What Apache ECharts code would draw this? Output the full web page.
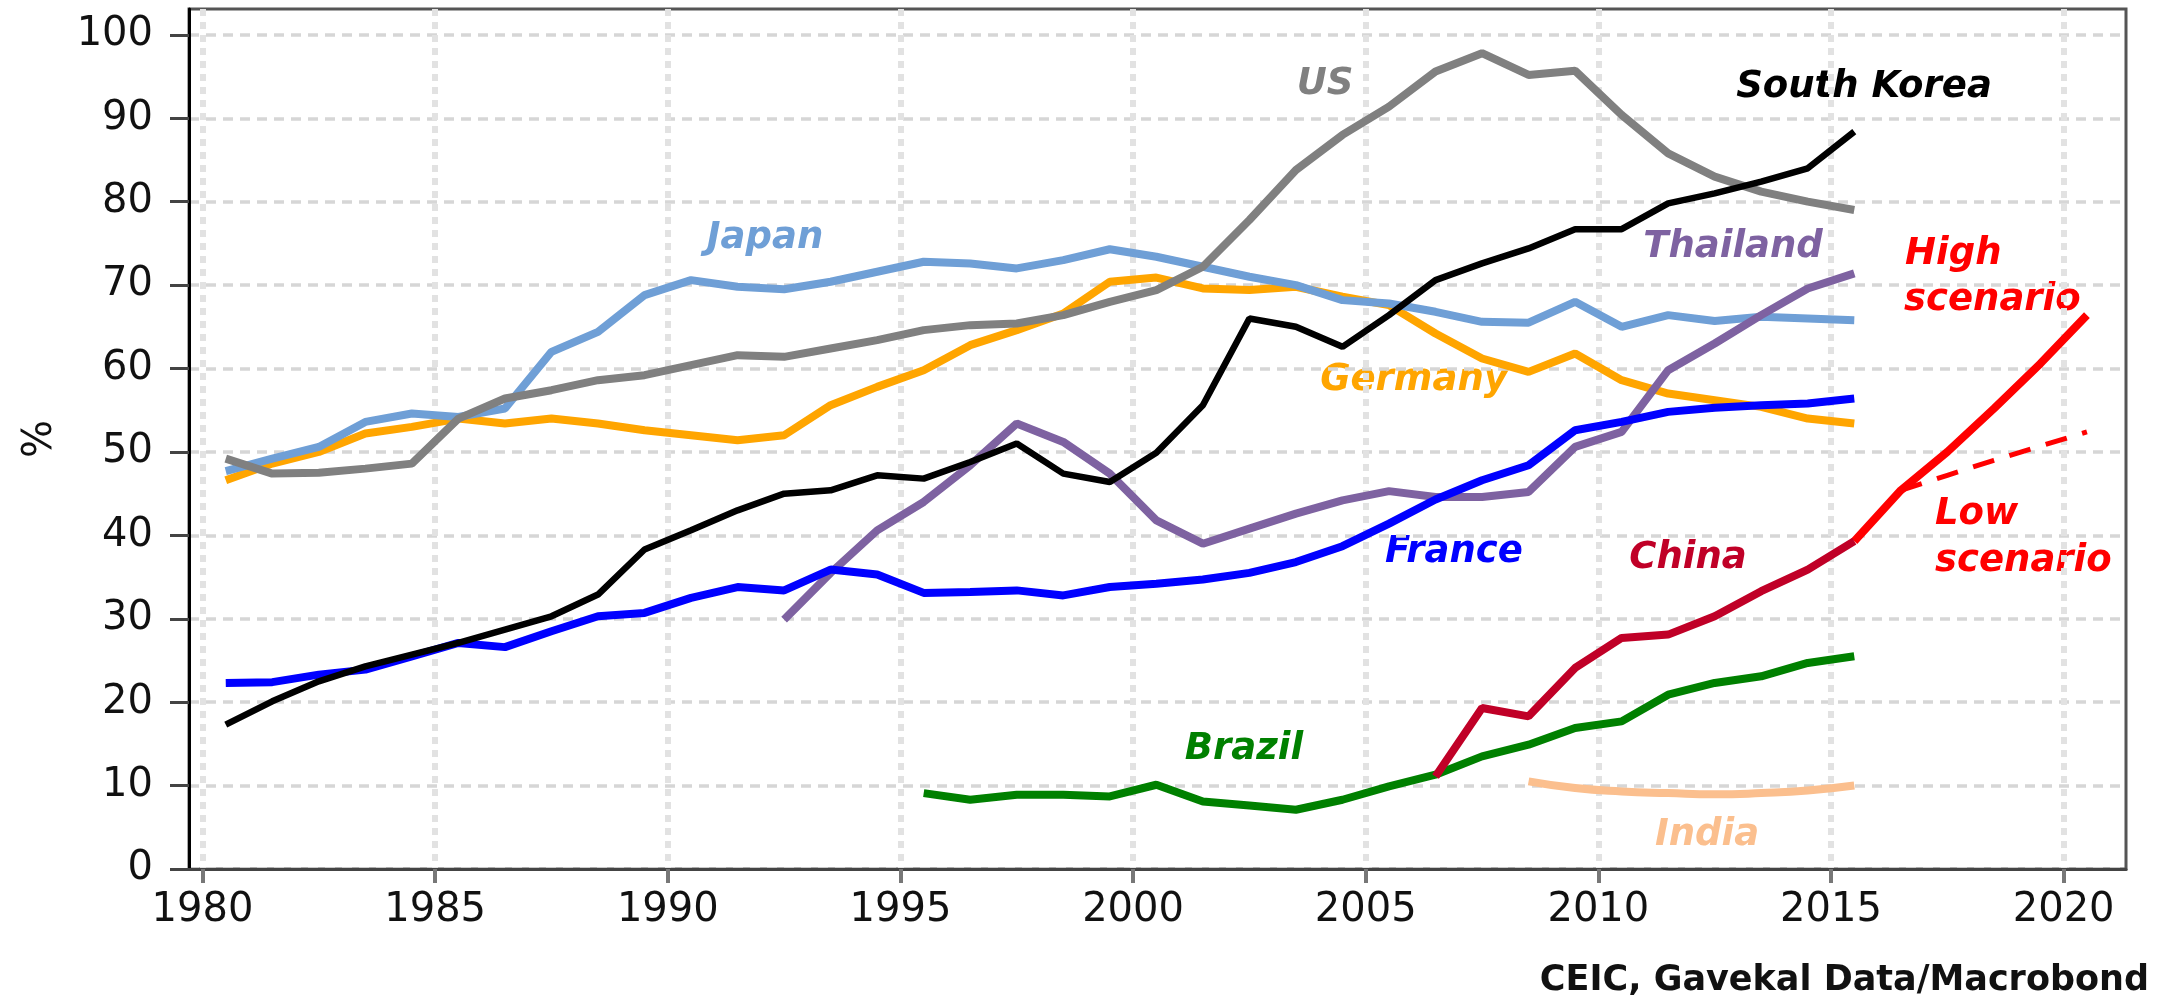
<!DOCTYPE html>
<html>
<head>
<meta charset="utf-8">
<title>Debt</title>
<script src="https://cdn.jsdelivr.net/npm/echarts@6/dist/echarts.min.js"></script>
<style>
  html, body { margin: 0; padding: 0; background: #fff; }
  #box1 { width: 2163px; height: 1006px; }
</style>
</head>
<body>
<div id="box1"></div>
<script>
// yearly values, first year given separately; points sit at mid-year
var japanStart = 1980;
var japan = [47.7, 49.2, 50.6, 53.6, 54.6, 54.2, 55.2, 62.0, 64.4, 68.8, 70.6, 69.8, 69.5, 70.4, 71.6, 72.8, 72.6, 72.0,
    73.0, 74.3, 73.4, 72.2, 71.0, 70.0, 68.2, 67.8, 66.8, 65.6, 65.5, 68.0, 65.0, 66.4, 65.7, 66.2, 66.0, 65.8];
var usStart = 1980;
var us = [49.2, 47.4, 47.5, 48.0, 48.6, 54.0, 56.4, 57.4, 58.6, 59.2, 60.4, 61.6, 61.4, 62.4, 63.4, 64.6, 65.2, 65.4,
    66.4, 68.0, 69.4, 72.2, 77.8, 83.8, 88.0, 91.4, 95.6, 97.8, 95.2, 95.7, 90.4, 85.8, 83.0, 81.2, 80.0, 79.0];
var germanyStart = 1980;
var germany = [46.6, 48.6, 50.0, 52.2, 53.0, 54.0, 53.4, 54.0, 53.4, 52.6, 52.0, 51.4, 52.0, 55.6, 57.8, 59.8, 62.8, 64.6,
    66.6, 70.4, 70.9, 69.6, 69.4, 69.8, 68.6, 67.6, 64.2, 61.2, 59.6, 61.8, 58.6, 57.0, 56.2, 55.4, 54.0, 53.4];
var koreaStart = 1980;
var korea = [17.3, 20.1, 22.5, 24.3, 25.7, 27.1, 28.7, 30.3, 32.9, 38.3, 40.6, 43.0, 45.0, 45.4, 47.2, 46.8, 48.8, 51.0,
    47.4, 46.4, 49.9, 55.6, 66.0, 65.0, 62.6, 66.4, 70.6, 72.6, 74.4, 76.7, 76.7, 79.8, 81.0, 82.4, 84.0, 88.4];
var franceStart = 1980;
var france = [22.3, 22.4, 23.3, 23.9, 25.5, 27.1, 26.6, 28.5, 30.3, 30.7, 32.5, 33.8, 33.4, 35.9, 35.3, 33.1, 33.2, 33.4,
    32.8, 33.8, 34.2, 34.7, 35.5, 36.8, 38.7, 41.4, 44.3, 46.6, 48.4, 52.6, 53.6, 54.8, 55.3, 55.6, 55.8, 56.4];
var thailandStart = 1992;
var thailand = [29.9, 35.5, 40.6, 44.0, 48.4, 53.4, 51.2, 47.4, 41.8, 39.0, 40.8, 42.6, 44.2, 45.3, 44.6, 44.6, 45.2, 50.6,
    52.4, 59.8, 63.0, 66.4, 69.6, 71.4];
var brazilStart = 1995;
var brazil = [9.1, 8.3, 8.9, 8.9, 8.7, 10.1, 8.1, 7.6, 7.1, 8.3, 9.9, 11.3, 13.5, 14.9, 16.9, 17.7, 20.9, 22.3, 23.1, 24.7, 25.5];
var chinaStart = 2006;
var china = [11.1, 19.3, 18.3, 24.1, 27.7, 28.1, 30.3, 33.3, 35.9, 39.3];
var highStart = 2015;
var high = [39.3, 45.4, 50.0, 55.2, 60.6, 66.4];
var lowStart = 2016;
var low = [45.4, 47.2, 49.0, 50.7, 52.4];
var indiaStart = 2008;
var india = [10.5, 9.7, 9.3, 9.1, 8.95, 9.1, 9.4, 10.0];

var xTicks = [1980, 1985, 1990, 1995, 2000, 2005, 2010, 2015, 2020];
var yTicks = [0, 10, 20, 30, 40, 50, 60, 70, 80, 90, 100];

function pts(start, vals) {
    var out = [];
    for (var i = 0; i < vals.length; i++) out.push([start + i + 0.5, vals[i]]);
    return out;
}

function line(name, start, vals, color, width, extra) {
    var s = {
        name: name,
        type: 'line',
        data: pts(start, vals),
        symbol: 'none',
        lineStyle: {color: color, width: width},
        itemStyle: {color: color}
    };
    for (var k in extra) s[k] = extra[k];
    return s;
}

function tag(text, x, y, color, align) {
    return {
        type: 'text',
        x: x,
        y: y,
        style: {
            text: text,
            fill: color,
            font: 'italic bold 37px "DejaVu Sans"',
            align: align || 'center',
            verticalAlign: 'middle'
        }
    };
}

var myChart1 = echarts.init(document.getElementById('box1'));

var option1 = {
    animation: false,
    grid: {
        left: 189,
        right: 37,
        top: 9,
        bottom: 137,
        show: true,
        borderColor: '#555',
        borderWidth: 3
    },
    xAxis: {
        type: 'value',
        min: 1979.71,
        max: 2021.34,
        splitNumber: 8,
        axisLine: {lineStyle: {color: '#444', width: 3}},
        axisTick: {show: true, length: 14, customValues: xTicks, lineStyle: {color: '#777', width: 4}},
        axisLabel: {
            customValues: xTicks,
            formatter: function (v) { return String(v); },
            margin: 22,
            color: '#111',
            fontSize: 40,
            fontFamily: 'DejaVu Sans'
        },
        splitLine: {show: true, lineStyle: {color: '#e2e2e2', width: 6, type: [7, 6]}}
    },
    yAxis: {
        type: 'value',
        min: 0,
        max: 103.1,
        interval: 10,
        name: '%',
        nameLocation: 'middle',
        nameRotate: 90,
        nameGap: 128,
        nameTextStyle: {color: '#111', fontSize: 40, fontFamily: 'DejaVu Sans'},
        axisLine: {lineStyle: {color: '#000', width: 3}},
        axisTick: {show: true, length: 19, customValues: yTicks, lineStyle: {color: '#444', width: 3}},
        axisLabel: {
            customValues: yTicks,
            margin: 36,
            color: '#111',
            fontSize: 40,
            fontFamily: 'DejaVu Sans'
        },
        splitLine: {show: true, lineStyle: {color: '#d6d6d6', width: 3.5, type: [10, 7]}}
    },
    graphic: [
        tag('US', 1325, 84, '#808080'),
        tag('South Korea', 1864, 87, '#000000'),
        tag('Japan', 765, 238, '#6f9fd6'),
        tag('Thailand', 1733, 247, '#7e62a1'),
        tag('High', 1905, 254, '#ff0000', 'left'),
        tag('scenario', 1904, 300, '#ff0000', 'left'),
        tag('Germany', 1414, 380, '#ffa500'),
        tag('France', 1454, 552, '#0000ff'),
        tag('China', 1688, 558, '#c00027'),
        tag('Low', 1935, 514, '#ff0000', 'left'),
        tag('scenario', 1935, 561, '#ff0000', 'left'),
        tag('Brazil', 1244, 749, '#008000'),
        tag('India', 1707, 835, '#fbbf8e'),
        {
            type: 'text',
            right: 14,
            bottom: 8,
            style: {
                text: 'CEIC, Gavekal Data/Macrobond',
                fill: '#111',
                font: 'bold 35px "DejaVu Sans"'
            }
        }
    ],
    series: [
        line('India', indiaStart, india, '#fbbf8e', 8, {smooth: true}),
        line('Brazil', brazilStart, brazil, '#008000', 8),
        line('Low scenario', lowStart, low, '#ff0000', 5, {lineStyle: {color: '#ff0000', width: 5, type: [22, 16]}}),
        line('High scenario', highStart, high, '#ff0000', 8),
        line('China', chinaStart, china, '#c00027', 8),
        line('Germany', germanyStart, germany, '#ffa500', 8),
        line('Japan', japanStart, japan, '#6f9fd6', 8),
        line('US', usStart, us, '#808080', 8),
        line('Thailand', thailandStart, thailand, '#7e62a1', 8),
        line('France', franceStart, france, '#0000ff', 8),
        line('South Korea', koreaStart, korea, '#000000', 6.5)
    ]
};

myChart1.setOption(option1);
</script>
</body>
</html>
